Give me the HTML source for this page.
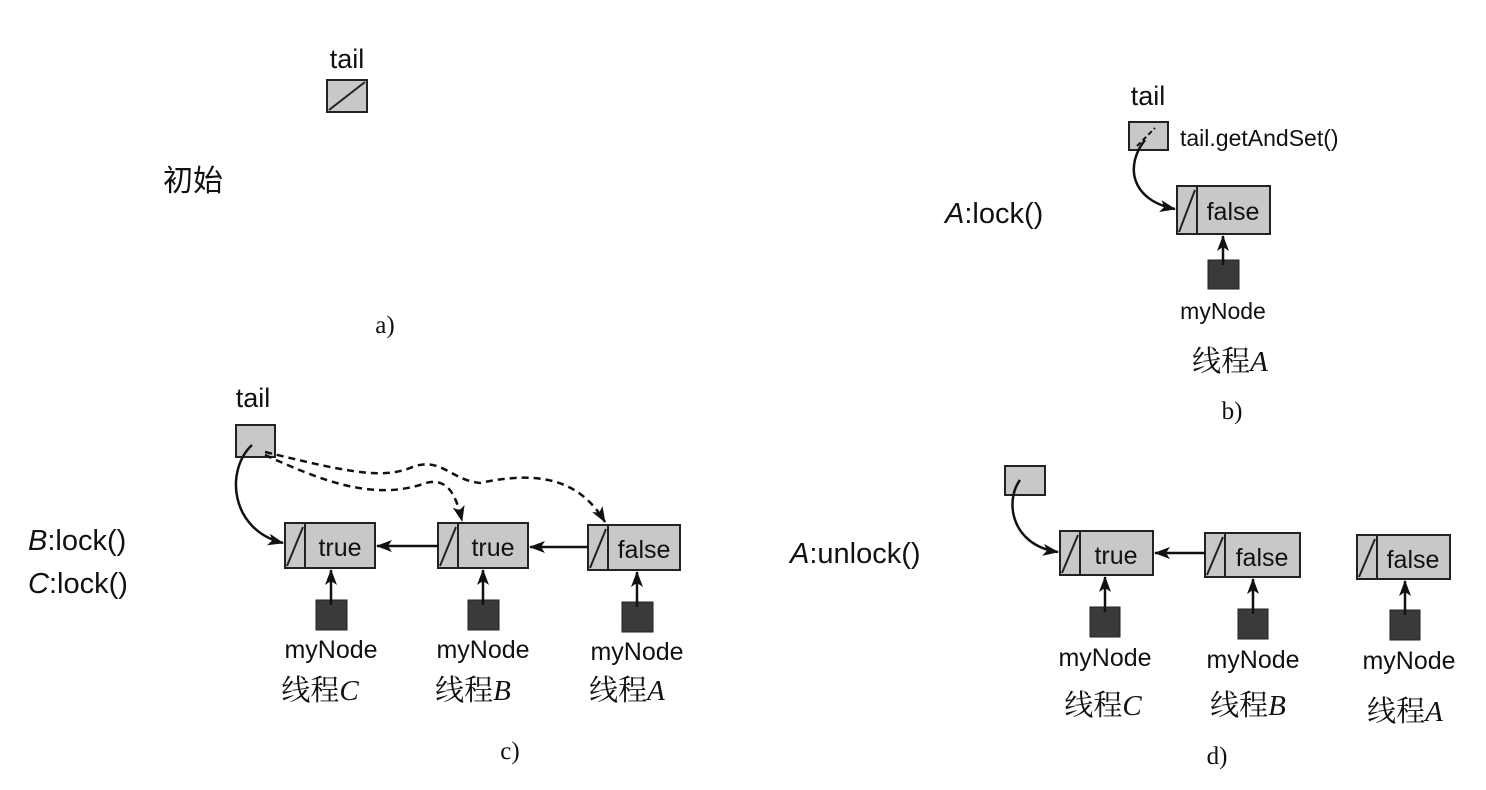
<!DOCTYPE html>
<html><head><meta charset="utf-8"><style>
html,body{margin:0;padding:0;background:#fff}
svg{display:block}
text{font-family:"Liberation Sans","Noto Sans CJK SC",sans-serif;fill:#111}
.s{font-family:"Liberation Serif","Noto Serif CJK SC",serif}
</style></head><body>
<svg width="1486" height="790" viewBox="0 0 1486 790" xmlns="http://www.w3.org/2000/svg">
<defs>
<marker id="ah" markerWidth="16" markerHeight="12" refX="15" refY="6" orient="auto" markerUnits="userSpaceOnUse">
<path d="M0,0 L16,6 L0,12 L4,6 Z" fill="#111"/>
</marker>
</defs>
<g stroke="#222" stroke-width="2" fill="#c8c8c8">
<rect x="327" y="80" width="40" height="32"/>
<line x1="329" y1="110" x2="365" y2="82"/>
<rect x="1129" y="122" width="39" height="28"/>
<rect x="1177" y="186" width="93" height="48"/><line x1="1197" y1="186" x2="1197" y2="234"/><line x1="1179" y1="232" x2="1195" y2="190"/>
<rect x="236" y="425" width="39" height="32"/>
<rect x="285" y="523" width="90" height="45"/><line x1="305" y1="523" x2="305" y2="568"/><line x1="287" y1="566" x2="303" y2="527"/>
<rect x="438" y="523" width="90" height="45"/><line x1="458" y1="523" x2="458" y2="568"/><line x1="440" y1="566" x2="456" y2="527"/>
<rect x="588" y="525" width="92" height="45"/><line x1="608" y1="525" x2="608" y2="570"/><line x1="590" y1="568" x2="606" y2="529"/>
<rect x="1005" y="466" width="40" height="29"/>
<rect x="1060" y="531" width="93" height="44"/><line x1="1080" y1="531" x2="1080" y2="575"/><line x1="1062" y1="573" x2="1078" y2="535"/>
<rect x="1205" y="533" width="95" height="44"/><line x1="1225" y1="533" x2="1225" y2="577"/><line x1="1207" y1="575" x2="1223" y2="537"/>
<rect x="1357" y="535" width="93" height="44"/><line x1="1377" y1="535" x2="1377" y2="579"/><line x1="1359" y1="577" x2="1375" y2="539"/>
</g>
<g fill="#3a3a3a" stroke="#222" stroke-width="1">
<rect x="1208" y="260" width="31" height="29"/>
<rect x="316" y="600" width="31" height="30"/>
<rect x="468" y="600" width="31" height="30"/>
<rect x="622" y="602" width="31" height="30"/>
<rect x="1090" y="607" width="30" height="30"/>
<rect x="1238" y="609" width="30" height="30"/>
<rect x="1390" y="610" width="30" height="30"/>
</g>
<g stroke="#111" stroke-width="2.5" fill="none" marker-end="url(#ah)">
<line x1="1223" y1="265" x2="1223" y2="236"/>
<line x1="331" y1="605" x2="331" y2="570"/>
<line x1="483" y1="605" x2="483" y2="570"/>
<line x1="637" y1="607" x2="637" y2="572"/>
<line x1="1105" y1="612" x2="1105" y2="577"/>
<line x1="1253" y1="614" x2="1253" y2="579"/>
<line x1="1405" y1="615" x2="1405" y2="581"/>
<line x1="438" y1="546" x2="377" y2="546"/>
<line x1="588" y1="547" x2="530" y2="547"/>
<line x1="1205" y1="553" x2="1155" y2="553"/>
<path d="M1145,140 C1125,165 1130,200 1175,209"/>
<path d="M252,445 C225,470 230,530 283,543"/>
<path d="M1020,480 C1005,500 1010,545 1058,552"/>
</g>
<g stroke="#111" stroke-width="2.5" fill="none" stroke-dasharray="7,5" marker-end="url(#ah)">
<path d="M265,455 C320,480 370,500 420,485 C445,475 455,490 462,521"/>
<path d="M265,452 C340,470 380,480 410,468 C440,455 450,480 480,483 C540,470 580,480 605,522"/>
</g>
<line x1="1137" y1="146" x2="1155" y2="128" stroke="#111" stroke-width="2" stroke-dasharray="5,3"/>
<text x="347" y="68" font-size="27" text-anchor="middle">tail</text>
<text x="163" y="191" font-size="30">初始</text>
<text x="385" y="333" font-size="25" class="s" text-anchor="middle">a)</text>

<text x="1148" y="105" font-size="27" text-anchor="middle">tail</text>
<text x="1180" y="146" font-size="23">tail.getAndSet()</text>
<text x="1233" y="220" font-size="25" text-anchor="middle">false</text>
<text x="945" y="223" font-size="29"><tspan font-style="italic">A</tspan>:lock()</text>
<text x="1223" y="319" font-size="23" text-anchor="middle">myNode</text>
<text x="1230" y="371" font-size="29" text-anchor="middle" class="s">线程<tspan font-style="italic">A</tspan></text>
<text x="1232" y="419" font-size="25" class="s" text-anchor="middle">b)</text>

<text x="253" y="407" font-size="27" text-anchor="middle">tail</text>
<text x="340" y="556" font-size="25" text-anchor="middle">true</text>
<text x="493" y="556" font-size="25" text-anchor="middle">true</text>
<text x="644" y="558" font-size="25" text-anchor="middle">false</text>
<text x="28" y="550" font-size="29"><tspan font-style="italic">B</tspan>:lock()</text>
<text x="28" y="593" font-size="29"><tspan font-style="italic">C</tspan>:lock()</text>
<text x="331" y="658" font-size="25" text-anchor="middle">myNode</text>
<text x="483" y="658" font-size="25" text-anchor="middle">myNode</text>
<text x="637" y="660" font-size="25" text-anchor="middle">myNode</text>
<text x="320" y="700" font-size="29" text-anchor="middle" class="s">线程<tspan font-style="italic">C</tspan></text>
<text x="473" y="700" font-size="29" text-anchor="middle" class="s">线程<tspan font-style="italic">B</tspan></text>
<text x="627" y="700" font-size="29" text-anchor="middle" class="s">线程<tspan font-style="italic">A</tspan></text>
<text x="510" y="759" font-size="25" class="s" text-anchor="middle">c)</text>

<text x="790" y="563" font-size="29"><tspan font-style="italic">A</tspan>:unlock()</text>
<text x="1116" y="564" font-size="25" text-anchor="middle">true</text>
<text x="1262" y="566" font-size="25" text-anchor="middle">false</text>
<text x="1413" y="568" font-size="25" text-anchor="middle">false</text>
<text x="1105" y="666" font-size="25" text-anchor="middle">myNode</text>
<text x="1253" y="668" font-size="25" text-anchor="middle">myNode</text>
<text x="1409" y="669" font-size="25" text-anchor="middle">myNode</text>
<text x="1103" y="715" font-size="29" text-anchor="middle" class="s">线程<tspan font-style="italic">C</tspan></text>
<text x="1248" y="715" font-size="29" text-anchor="middle" class="s">线程<tspan font-style="italic">B</tspan></text>
<text x="1405" y="721" font-size="29" text-anchor="middle" class="s">线程<tspan font-style="italic">A</tspan></text>
<text x="1217" y="764" font-size="25" class="s" text-anchor="middle">d)</text>
</svg>
</body></html>
